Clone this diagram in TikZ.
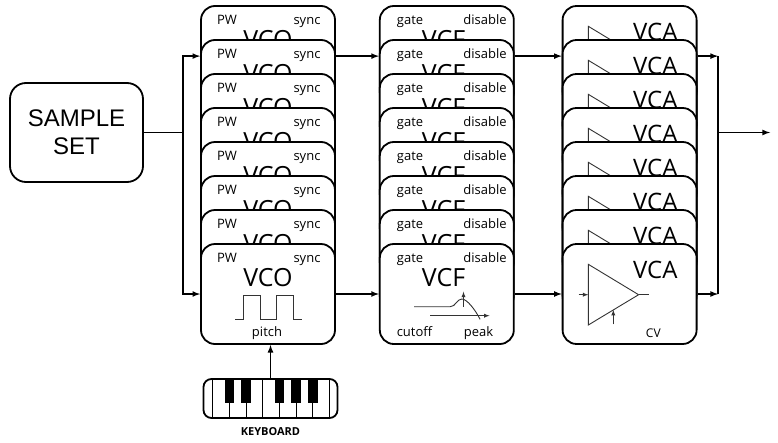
\documentclass[tikz,border=0pt]{standalone}
\usepackage{fontspec}
\setmainfont{Open Sans}
\newfontfamily\samplefont{Liberation Sans}
\usetikzlibrary{positioning, arrows}
\tikzset{
  module/.style={draw, fill=white, rounded corners=14pt, line width=1.8pt,
    minimum width=134pt, minimum height=100pt, inner sep=0pt},
  port/.style={anchor=base, inner sep=0pt, font=\fontsize{13}{15}\selectfont},
  title/.style={anchor=base, inner sep=0pt, font=\fontsize{25}{30}\selectfont},
  trace/.style={line width=0.9pt, black!80},
  wire/.style={line width=1.6pt},
  sig/.style={-latex, line width=1.6pt},
}

\begin{document}
\begin{tikzpicture}[x=1pt, y=-1pt]
  \useasboundingbox (0,0) rectangle (778,442);

  \node[draw, rounded corners=16pt, line width=1.8pt, minimum width=133pt,
    minimum height=99pt, align=center,
    font=\samplefont\fontsize{24}{27.7}\selectfont] (sample) at (76.5,132.5) {SAMPLE\\SET};

  % eight voices, stacked, the last one in front
  \foreach \i in {1,...,8}{
    \node[module] (vco\i) at (268,{56+34*(\i-1)}) {};
    \node[port] (pw\i) at ([shift={(-41,-31.5)}]vco\i.center) {PW};
    \node[port] (sync\i) at ([shift={(39,-31.5)}]vco\i.center) {sync};
    \node[title] (vconame\i) at ([shift={(0,-7.3)}]vco\i.center) {VCO};
    \draw[trace, shift={(vco\i.center)}] (-33,25) -- (-24.7,25) -- (-24.7,1) -- (-8,1)
      -- (-8,25) -- (8.7,25) -- (8.7,1) -- (25.3,1) -- (25.3,25) -- (33.7,25);
    \node[port] (pitch\i) at ([shift={(-1,42)}]vco\i.center) {pitch};

    \node[module, right=43pt of vco\i] (vcf\i) {};
    \node[port] (gate\i) at ([shift={(-36.7,-31.5)}]vcf\i.center) {gate};
    \node[port] (disable\i) at ([shift={(38.3,-31.5)}]vcf\i.center) {disable};
    \node[title] (vcfname\i) at ([shift={(-3.3,-8)}]vcf\i.center) {VCF};
    \draw[trace, -latex, shift={(vcf\i.center)}] (-16.7,21.7) -- (42.7,21.7);
    \draw[trace, shift={(vcf\i.center)}] (-32.7,12.7) -- (3.3,12.7)
      .. controls (9,12.7) and (10,5) .. (15,5)
      .. controls (20,5) and (28,15) .. (33.3,25.3);
    \draw[trace, -latex, shift={(vcf\i.center)}] (16.7,12.7) -- (16.7,-2.3);
    \node[port] (cutoff\i) at ([shift={(-32.3,42)}]vcf\i.center) {cutoff};
    \node[port] (peak\i) at ([shift={(31.7,42)}]vcf\i.center) {peak};

    \node[module, right=47pt of vcf\i] (vca\i) {};
    \draw[trace, shift={(vca\i.center)}] (-41.3,-29.7) -- (-41.3,31) -- (9,0.7) -- cycle;
    \draw[trace, shift={(vca\i.center)}] (9,0.7) -- (19,0.7);
    \draw[trace, -latex, shift={(vca\i.center)}] (-51,0.7) -- (-41.3,0.7);
    \draw[trace, -latex, shift={(vca\i.center)}] (-16.3,30.3) -- (-16.3,15.9);
    \node[title, font=\fontsize{24}{28}\selectfont] (vcaname\i) at ([shift={(25.7,-15.7)}]vca\i.center) {VCA};
    \node[port, font=\fontsize{12}{14}\selectfont] (cv\i) at ([shift={(23.7,43.3)}]vca\i.center) {CV};
  }

  \foreach \m in {vco,vcf,vca}{
    \coordinate (\m2in) at ([yshift=-17pt]\m2.north west);
    \coordinate (\m2out) at ([yshift=-17pt]\m2.north east);
  }
  \coordinate (split) at (183,132.5);
  \coordinate (merge) at (718,132.5);
  \coordinate (out) at (770,132.5);

  \draw[wire] (sample) -- (split);
  \draw[sig] (split) |- (vco2in);
  \draw[sig] (split) |- (vco8);
  \draw[sig] (vco2out) -- (vcf2in);
  \draw[sig] (vco8) -- (vcf8);
  \draw[sig] (vcf2out) -- (vca2in);
  \draw[sig] (vcf8) -- (vca8);
  \draw[sig] (vca2out) -- (vca2out -| merge);
  \draw[sig] (vca8) -- (vca8 -| merge);
  \draw[wire] (vca2out -| merge) -- (vca8 -| merge);
  \draw[sig] (merge) -- (out);

  % keyboard
  \node[draw, rounded corners=8pt, line width=1.8pt, minimum width=134pt,
    minimum height=39pt] (kbd) at (270.5,398.5) {};
  \foreach \k in {0,...,7}
    \draw[line width=0.9pt] ({212.7+16.67*\k},379) -- ++(0,39);
  \foreach \k in {1,2,4,5,6}
    \fill ({212.7+16.67*\k-4.8},379) rectangle ++(9.6,24);
  \node[anchor=base, inner sep=0pt, font=\bfseries\fontsize{11}{13}\selectfont] (kbdname) at (270.5,435) {KEYBOARD};
  \draw[sig] (kbd.north) -- (kbd.north |- vco8.south);
\end{tikzpicture}
\end{document}
